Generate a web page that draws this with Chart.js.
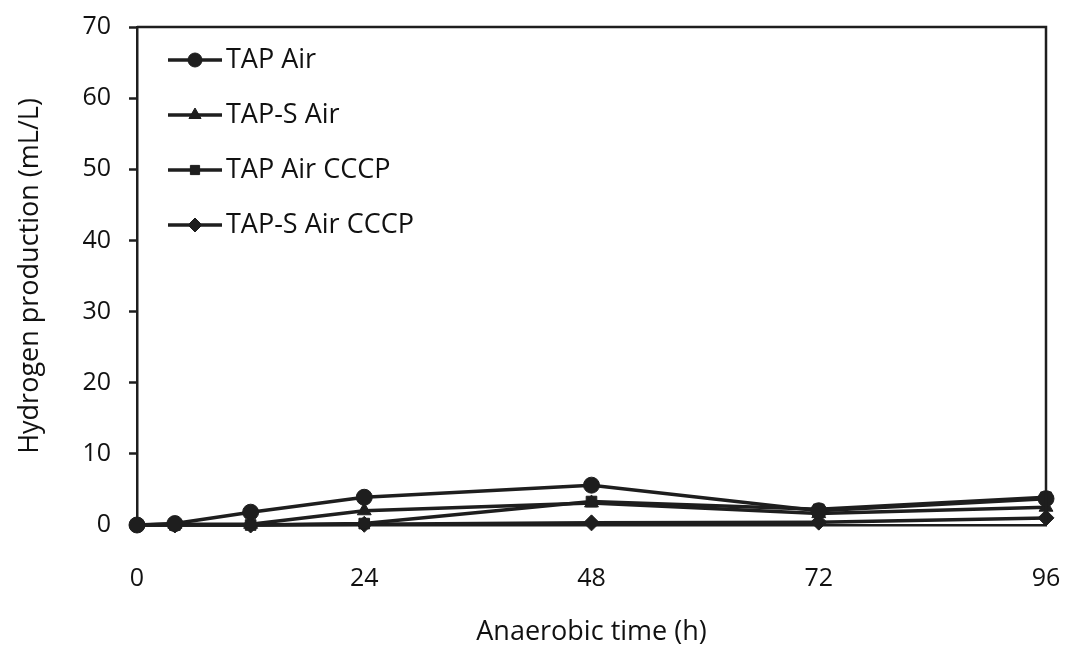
<!DOCTYPE html>
<html>
<head>
<meta charset="utf-8">
<script src="https://cdn.jsdelivr.net/npm/chart.js@4/dist/chart.umd.min.js"></script>
<style>
  html, body { margin: 0; padding: 0; background: #ffffff; }
  #wrap { width: 1078px; height: 646px; }
</style>
</head>
<body>
<div id="wrap"><canvas id="c" width="1078" height="646"></canvas></div>
<script>
const hours = [0, 4, 12, 24, 48, 72, 96];
const xTicks = [0, 24, 48, 72, 96];
const yTicks = [0, 10, 20, 30, 40, 50, 60, 70];
const seriesNames = ['TAP Air', 'TAP-S Air', 'TAP Air CCCP', 'TAP-S Air CCCP'];
const tapAir = [0, 0.2, 1.8, 3.9, 5.6, 2.0, 3.7];
const tapSAir = [0, 0.1, 0.1, 2.0, 3.1, 1.6, 2.5];
const tapAirCCCP = [0, 0, 0, 0.2, 3.3, 2.2, 3.9];
const tapSAirCCCP = [0, 0, 0, 0.1, 0.3, 0.4, 1.0];
const xTitle = 'Anaerobic time (h)';
const yTitle = 'Hydrogen production (mL/L)';

const INK = '#1e1e1e';
const FONT = "'Open Sans', 'DejaVu Sans', sans-serif";

function pts(vals) { return hours.map((h, i) => ({ x: h, y: vals[i] })); }

const styles = [
  { pointStyle: 'circle', pointRadius: 8 },
  { pointStyle: 'triangle', pointRadius: 8 },
  { pointStyle: 'rect', pointRadius: 7.5 },
  { pointStyle: 'rectRot', pointRadius: 8 }
];
const allVals = [tapAir, tapSAir, tapAirCCCP, tapSAirCCCP];

const datasets = allVals.map((v, i) => ({
  label: seriesNames[i],
  data: pts(v),
  borderColor: INK,
  backgroundColor: INK,
  borderWidth: 3.5,
  pointStyle: styles[i].pointStyle,
  pointRadius: styles[i].pointRadius,
  pointBackgroundColor: INK,
  pointBorderColor: INK,
  pointBorderWidth: 1,
  tension: 0,
  clip: false
}));

const framePlugin = {
  id: 'frame',
  afterDraw(chart) {
    const { ctx, chartArea: a } = chart;
    ctx.save();
    ctx.strokeStyle = INK;
    ctx.lineWidth = 2.5;
    ctx.beginPath();
    ctx.moveTo(a.left, a.top);
    ctx.lineTo(a.right, a.top);
    ctx.lineTo(a.right, a.bottom);
    ctx.stroke();
    ctx.restore();
  }
};

const legendPlugin = {
  id: 'customLegend',
  afterDraw(chart) {
    const { ctx } = chart;
    const yStart = 60, step = 55;
    ctx.save();
    chart.data.datasets.forEach((ds, i) => {
      const y = yStart + i * step;
      ctx.strokeStyle = INK;
      ctx.lineWidth = 3.5;
      ctx.beginPath();
      ctx.moveTo(168, y);
      ctx.lineTo(222, y);
      ctx.stroke();
      ctx.fillStyle = INK;
      ctx.strokeStyle = INK;
      ctx.lineWidth = 1;
      Chart.helpers.drawPoint(ctx, { pointStyle: ds.pointStyle, radius: ds.pointRadius - 1, rotation: 0, borderWidth: 1 }, 195, y);
      ctx.fillStyle = '#111';
      ctx.font = '27px ' + FONT;
      ctx.textBaseline = 'middle';
      ctx.textAlign = 'left';
      ctx.fillText(ds.label, 226, y);
    });
    ctx.restore();
  }
};

new Chart(document.getElementById('c'), {
  type: 'line',
  data: { datasets },
  options: {
    responsive: false,
    animation: false,
    layout: { autoPadding: false, padding: { left: 0, right: 32, top: 27, bottom: 0 } },
    plugins: { legend: { display: false }, tooltip: { enabled: false } },
    scales: {
      x: {
        type: 'linear',
        min: 0, max: 96,
        afterBuildTicks(scale) { scale.ticks = xTicks.map(v => ({ value: v })); },
        afterFit(scale) { scale.height = 121; scale.paddingLeft = 0; scale.paddingRight = 0; },
        grid: { display: true, drawOnChartArea: false, drawTicks: false },
        border: { display: true, color: INK, width: 2.5 },
        ticks: { color: '#111', padding: 39, maxRotation: 0, font: { size: 25, family: FONT } },
        title: { display: true, text: xTitle, color: '#111', padding: { top: 0, bottom: -3 }, font: { size: 27, family: FONT } }
      },
      y: {
        min: 0, max: 70,
        afterBuildTicks(scale) { scale.ticks = yTicks.map(v => ({ value: v })); },
        afterFit(scale) { scale.width = 137; scale.paddingTop = 0; scale.paddingBottom = 0; },
        grid: { display: true, drawOnChartArea: false, drawTicks: true, tickLength: 8, tickColor: INK, tickWidth: 2.5 },
        border: { display: true, color: INK, width: 2.5 },
        ticks: { color: '#111', padding: 18, font: { size: 25, family: FONT } },
        title: { display: true, text: yTitle, color: '#111', padding: { top: 14, bottom: 0 }, font: { size: 27, family: FONT } }
      }
    }
  },
  plugins: [framePlugin, legendPlugin]
});
</script>
</body>
</html>
